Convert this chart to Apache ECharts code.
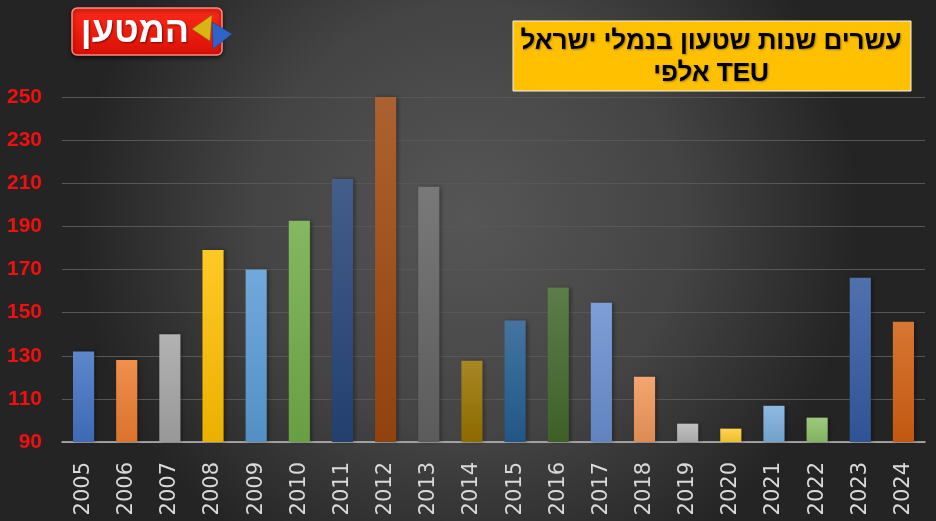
<!DOCTYPE html>
<html>
<head>
<meta charset="utf-8">
<script src="https://cdn.jsdelivr.net/npm/echarts@6/dist/echarts.min.js"></script>
<style>
html,body{margin:0;padding:0;background:#333;}
#chart{width:936px;height:521px;}
</style>
</head>
<body>
<div id="chart"></div>
<script>
// ---- data ----
const years = ['2005','2006','2007','2008','2009','2010','2011','2012','2013','2014','2015','2016','2017','2018','2019','2020','2021','2022','2023','2024'];
const teuThousands = [132, 128, 140, 179, 170, 192.6, 212, 250, 208.4, 127.7, 146.3, 161.6, 154.6, 120.3, 98.5, 96.2, 106.8, 101.3, 166.2, 145.8];
const yTicks = [90, 110, 130, 150, 170, 190, 210, 230, 250];
const titleLine1 = 'עשרים שנות שטעון בנמלי ישראל';
const titleLine2 = 'אלפי TEU';
const logoText = 'המטען';

// ---- styles ----
const barColors = ['#4472C4','#ED7D31','#A5A5A5','#FFC000','#5B9BD5','#70AD47','#264478','#9E480E','#636363','#997300',
                   '#255E91','#43682B','#698ED0','#F1975A','#B7B7B7','#FFCD33','#7CAFDD','#8CC168','#335AA1','#D26012'];

function shade(hex, f) {
  const n = parseInt(hex.slice(1), 16);
  let r = (n >> 16) & 255, g = (n >> 8) & 255, b = n & 255;
  const t = f < 0 ? 0 : 255, p = Math.abs(f);
  r = Math.round((t - r) * p + r); g = Math.round((t - g) * p + g); b = Math.round((t - b) * p + b);
  return 'rgb(' + r + ',' + g + ',' + b + ')';
}

const chart = echarts.init(document.getElementById('chart'), null, {renderer: 'canvas'});

const seriesData = teuThousands.map((v, i) => ({
  value: v,
  itemStyle: {
    color: new echarts.graphic.LinearGradient(0, 0, 0, 1, [
      {offset: 0, color: shade(barColors[i], 0.14)},
      {offset: 1, color: shade(barColors[i], -0.08)}
    ])
  }
}));

const option = {
  backgroundColor: new echarts.graphic.RadialGradient(0.5, 0.42, 0.75, [
    {offset: 0, color: '#565656'},
    {offset: 0.55, color: '#444444'},
    {offset: 1, color: '#242424'}
  ]),
  animation: false,
  grid: {left: 62, right: 11, top: 97, bottom: 79, containLabel: false},
  xAxis: {
    type: 'category',
    data: years,
    axisLine: {show: true, lineStyle: {color: '#bfbfbf', width: 1.5}},
    axisTick: {show: false},
    axisLabel: {
      rotate: 90,
      color: '#d9d9d9',
      fontSize: 21,
      fontFamily: 'DejaVu Sans',
      margin: 20,
      interval: 0
    }
  },
  yAxis: {
    type: 'value',
    min: yTicks[0],
    max: yTicks[yTicks.length - 1],
    interval: yTicks[1] - yTicks[0],
    axisLine: {show: false},
    axisTick: {show: false},
    splitLine: {lineStyle: {color: '#575757', width: 1}},
    axisLabel: {
      color: '#f01010',
      fontSize: 21,
      fontWeight: 'bold',
      fontFamily: 'Liberation Sans',
      margin: 20
    }
  },
  series: [{
    type: 'bar',
    data: seriesData,
    barCategoryGap: '51%',
    itemStyle: {shadowColor: 'rgba(0,0,0,0.35)', shadowBlur: 4, shadowOffsetX: 2}
  }],
  graphic: [
    // title box
    {
      type: 'rect',
      shape: {x: 513, y: 21, width: 398, height: 70},
      style: {fill: '#FFC000', stroke: '#f2f2f2', lineWidth: 1},
      z: 10
    },
    {
      type: 'text',
      x: 711, y: 42,
      style: {
        text: titleLine1,
        fill: '#000',
        font: 'bold 26px "Liberation Sans", "DejaVu Sans", sans-serif',
        align: 'center', verticalAlign: 'middle',
        textShadowColor: 'rgba(0,0,0,0.35)', textShadowBlur: 2, textShadowOffsetX: 1, textShadowOffsetY: 1
      },
      z: 11
    },
    {
      type: 'text',
      x: 711, y: 74,
      style: {
        text: titleLine2,
        fill: '#000',
        font: 'bold 26px "Liberation Sans", "DejaVu Sans", sans-serif',
        align: 'center', verticalAlign: 'middle',
        textShadowColor: 'rgba(0,0,0,0.35)', textShadowBlur: 2, textShadowOffsetX: 1, textShadowOffsetY: 1
      },
      z: 11
    },
    // logo
    {
      type: 'rect',
      shape: {x: 72, y: 8, width: 150, height: 47, r: 5},
      style: {
        fill: new echarts.graphic.LinearGradient(0, 0, 0, 1, [
          {offset: 0, color: '#ff2a1a'}, {offset: 1, color: '#d90f05'}
        ]),
        stroke: '#ff8a80', lineWidth: 1.5,
        shadowColor: 'rgba(0,0,0,0.6)', shadowBlur: 4, shadowOffsetY: 2
      },
      z: 10
    },
    {
      type: 'text',
      x: 135, y: 32,
      style: {
        text: logoText,
        fill: '#ffffff',
        font: 'bold 36px "Liberation Sans", "DejaVu Sans", sans-serif',
        align: 'center', verticalAlign: 'middle',
        textShadowColor: 'rgba(80,0,0,0.7)', textShadowBlur: 2, textShadowOffsetX: 1, textShadowOffsetY: 1
      },
      z: 11
    },
    {
      type: 'polygon',
      shape: {points: [[192, 29], [212, 15], [210, 41]]},
      style: {fill: '#d9b514', stroke: '#8a6d00', lineWidth: 0.5},
      z: 12
    },
    {
      type: 'polygon',
      shape: {points: [[212, 22], [232, 34], [213, 49]]},
      style: {fill: '#2f63c9', stroke: '#173a80', lineWidth: 0.5},
      z: 12
    }
  ]
};

chart.setOption(option);
</script>
</body>
</html>
